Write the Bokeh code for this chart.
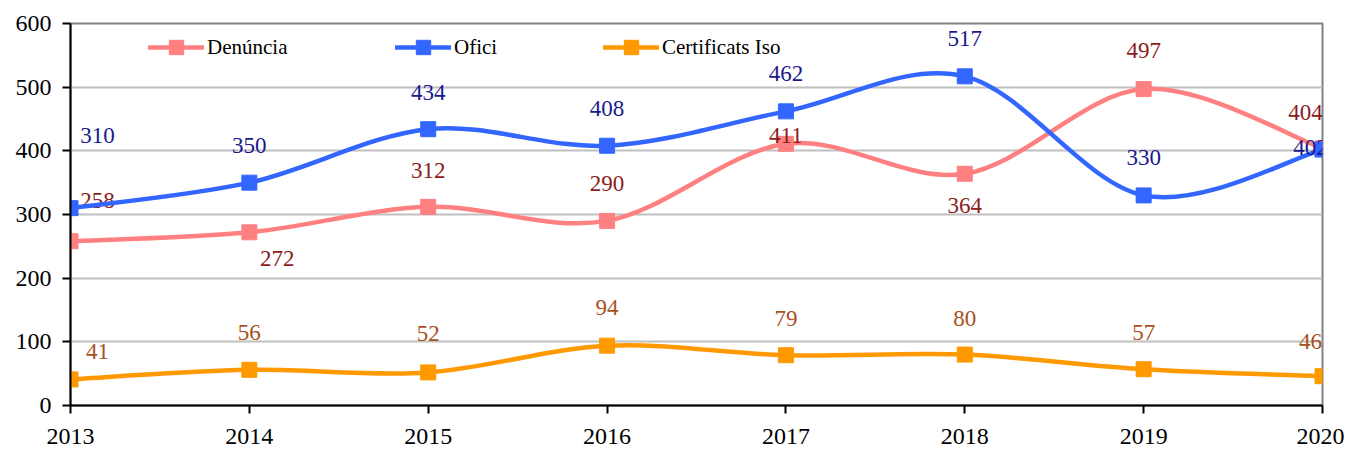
from bokeh.plotting import figure
from bokeh.models import Range1d, FixedTicker, ColumnDataSource, Legend, LegendItem
from bokeh.embed import file_html
from bokeh.resources import INLINE

years = [2013, 2014, 2015, 2016, 2017, 2018, 2019, 2020]
denuncia = [258, 272, 312, 290, 411, 364, 497, 404]
ofici = [310, 350, 434, 408, 462, 517, 330, 402]
certificats = [41, 56, 52, 94, 79, 80, 57, 46]
y_ticks = [0, 100, 200, 300, 400, 500, 600]

# label offsets (screen px), style only
den_dx = [27, 28, 0, 0, 0, 0, 0, -17]
den_dy = [-41, 26, -36, -37, -8, 32, -39, -36]
ofi_dx = [27, 0, 0, 0, 0, 0, 0, -12]
ofi_dy = [-73, -37, -37, -37, -38, -38, -38, -2]
cer_dx = [27, 0, 0, 0, 0, 0, 0, -12]
cer_dy = [-28, -37, -39, -38, -37, -36, -37, -35]

FONT = "Liberation Serif"
NAN = float("nan")

p = figure(width=1344, height=451, output_backend="svg", toolbar_location=None,
           x_range=Range1d(2013, 2020), y_range=Range1d(0, 600),
           min_border_left=70, min_border_right=22, min_border_top=23, min_border_bottom=46)
p.background_fill_color = "white"
p.border_fill_color = "white"
p.outline_line_color = "#808080"
p.outline_line_width = 2
p.xgrid.grid_line_color = None
p.ygrid.grid_line_color = "#C0C0C0"
p.ygrid.grid_line_width = 2
p.yaxis.ticker = FixedTicker(ticks=y_ticks)
p.xaxis.ticker = FixedTicker(ticks=years)
for ax in (p.xaxis[0], p.yaxis[0]):
    ax.axis_line_color = "black"
    ax.axis_line_width = 2
    ax.major_tick_line_color = "black"
    ax.major_tick_line_width = 2
    ax.major_tick_in = 0
    ax.major_tick_out = 8
    ax.minor_tick_line_color = None
    ax.major_label_text_font = FONT
    ax.major_label_text_font_size = "24px"
    ax.major_label_text_color = "black"
p.xaxis.major_label_standoff = 15
p.yaxis.major_label_standoff = 11


def smooth(xs, ys):
    n = len(xs)
    x0, y0, x1, y1, cx0, cy0, cx1, cy1 = [], [], [], [], [], [], [], []
    for i in range(n - 1):
        ip = max(i - 1, 0)
        i2 = min(i + 2, n - 1)
        x0.append(xs[i]); y0.append(ys[i])
        x1.append(xs[i + 1]); y1.append(ys[i + 1])
        cx0.append(xs[i] + (xs[i + 1] - xs[ip]) / 6.0)
        cy0.append(ys[i] + (ys[i + 1] - ys[ip]) / 6.0)
        cx1.append(xs[i + 1] - (xs[i2] - xs[i]) / 6.0)
        cy1.append(ys[i + 1] - (ys[i2] - ys[i]) / 6.0)
    return dict(x0=x0, y0=y0, x1=x1, y1=y1, cx0=cx0, cy0=cy0, cx1=cx1, cy1=cy1)


series = [
    ("Denúncia", denuncia, "#FF8080", "#8B1C1C", den_dx, den_dy, 78),
    ("Ofici", ofici, "#3366FF", "#1A1A8C", ofi_dx, ofi_dy, 325),
    ("Certificats Iso", certificats, "#FF9900", "#A8501E", cer_dx, cer_dy, 533),
]

legends = []
for name, vals, col, lcol, dx, dy, lx in series:
    src = ColumnDataSource(smooth(years, vals))
    p.bezier(x0="x0", y0="y0", x1="x1", y1="y1", cx0="cx0", cy0="cy0", cx1="cx1", cy1="cy1",
             source=src, line_color=col, line_width=4.5, line_cap="round")
    sq = p.scatter(years, vals, marker="square", size=15, fill_color=col, line_color=col)
    dummy = p.line([years[0]], [NAN], line_color=col, line_width=4.5, line_cap="round")
    tsrc = ColumnDataSource(dict(x=years, y=vals, t=[str(v) for v in vals], dx=dx, dy=dy))
    p.text(x="x", y="y", text="t", x_offset="dx", y_offset="dy", source=tsrc,
           text_color=lcol, text_font={"value": FONT}, text_font_size="23px",
           text_align="center", text_baseline="middle")
    lg = Legend(items=[LegendItem(label=name, renderers=[dummy, sq])],
                location=(lx, 340), orientation="horizontal",
                glyph_width=56, glyph_height=36, label_height=36, label_standoff=3,
                padding=0, margin=0, spacing=0,
                label_text_font=FONT, label_text_font_size="21px", label_text_color="black",
                border_line_alpha=0, background_fill_alpha=0)
    legends.append(lg)

for lg in legends:
    p.add_layout(lg, "center")

open("out.html", "w").write(file_html(p, INLINE))
